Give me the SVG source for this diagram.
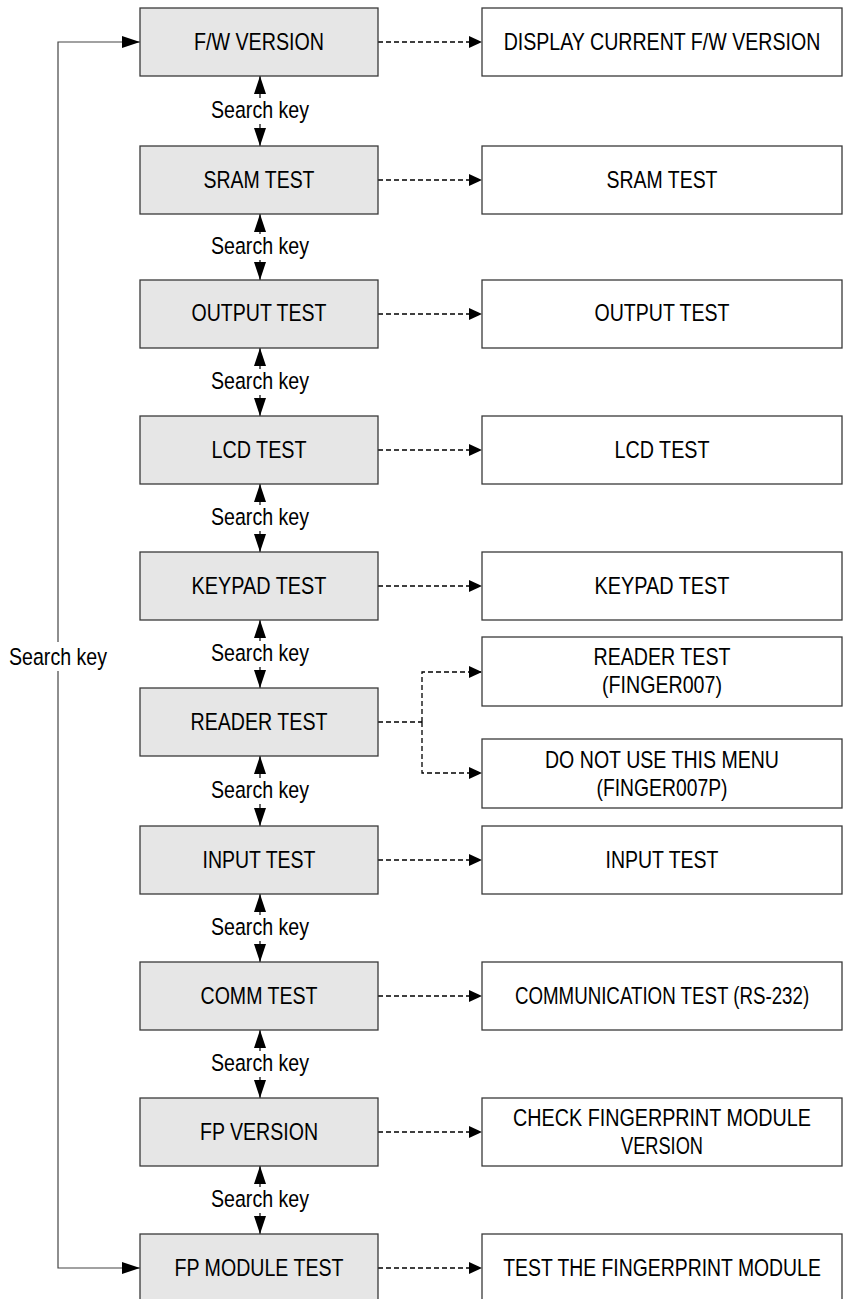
<svg xmlns="http://www.w3.org/2000/svg" width="843" height="1299" viewBox="0 0 843 1299">
<style>
text{font-family:"Liberation Sans Narrow","Liberation Sans",Arial,sans-serif;font-size:23.7px;fill:#000;text-anchor:middle}
.lb{fill:#e6e6e6;stroke:#3a3a3a;stroke-width:1.3}
.rb{fill:#fff;stroke:#3a3a3a;stroke-width:1.3}
.dash{fill:none;stroke:#000;stroke-width:1.3;stroke-dasharray:5 3;marker-end:url(#ahd)}
.dashn{fill:none;stroke:#000;stroke-width:1.3;stroke-dasharray:5 3}
.sk{fill:none;stroke:#000;stroke-width:1.2;marker-start:url(#ah);marker-end:url(#ah)}
.loop{fill:none;stroke:#444;stroke-width:1.2;marker-start:url(#ah);marker-end:url(#ah)}
.bg{fill:#fff;stroke:none}
</style>
<defs>
<marker id="ah" viewBox="0 0 18 12" refX="18" refY="6" markerWidth="18" markerHeight="12" markerUnits="userSpaceOnUse" orient="auto-start-reverse"><path d="M0,0 L18,6 L0,12 Z" fill="#000"/></marker>
<marker id="ahd" viewBox="0 0 13 12" refX="13" refY="6" markerWidth="13" markerHeight="12" markerUnits="userSpaceOnUse" orient="auto"><path d="M0,0 L13,6 L0,12 Z" fill="#000"/></marker>
</defs>

<g id="connectors">
  <path class="loop" d="M140,42 H58 V1268 H140"/>
  <rect class="bg" x="48" y="642" width="20" height="29"/>
  <text x="58" y="665" textLength="98" lengthAdjust="spacingAndGlyphs">Search key</text>

  <line class="sk" x1="260" y1="76" x2="260" y2="146"/>
  <line class="sk" x1="260" y1="214" x2="260" y2="280"/>
  <line class="sk" x1="260" y1="348" x2="260" y2="416"/>
  <line class="sk" x1="260" y1="484" x2="260" y2="552"/>
  <line class="sk" x1="260" y1="620" x2="260" y2="688"/>
  <line class="sk" x1="260" y1="756" x2="260" y2="826"/>
  <line class="sk" x1="260" y1="894" x2="260" y2="962"/>
  <line class="sk" x1="260" y1="1030" x2="260" y2="1098"/>
  <line class="sk" x1="260" y1="1166" x2="260" y2="1234"/>
  <g>
    <rect class="bg" x="208" y="98" width="104" height="26"/><text x="260" y="118" textLength="98" lengthAdjust="spacingAndGlyphs">Search key</text>
    <rect class="bg" x="208" y="234" width="104" height="26"/><text x="260" y="254" textLength="98" lengthAdjust="spacingAndGlyphs">Search key</text>
    <rect class="bg" x="208" y="369" width="104" height="26"/><text x="260" y="389" textLength="98" lengthAdjust="spacingAndGlyphs">Search key</text>
    <rect class="bg" x="208" y="505" width="104" height="26"/><text x="260" y="525" textLength="98" lengthAdjust="spacingAndGlyphs">Search key</text>
    <rect class="bg" x="208" y="641" width="104" height="26"/><text x="260" y="661" textLength="98" lengthAdjust="spacingAndGlyphs">Search key</text>
    <rect class="bg" x="208" y="778" width="104" height="26"/><text x="260" y="798" textLength="98" lengthAdjust="spacingAndGlyphs">Search key</text>
    <rect class="bg" x="208" y="915" width="104" height="26"/><text x="260" y="935" textLength="98" lengthAdjust="spacingAndGlyphs">Search key</text>
    <rect class="bg" x="208" y="1051" width="104" height="26"/><text x="260" y="1071" textLength="98" lengthAdjust="spacingAndGlyphs">Search key</text>
    <rect class="bg" x="208" y="1187" width="104" height="26"/><text x="260" y="1207" textLength="98" lengthAdjust="spacingAndGlyphs">Search key</text>
  </g>

  <line class="dash" x1="378" y1="42" x2="482" y2="42"/>
  <line class="dash" x1="378" y1="180" x2="482" y2="180"/>
  <line class="dash" x1="378" y1="314" x2="482" y2="314"/>
  <line class="dash" x1="378" y1="450" x2="482" y2="450"/>
  <line class="dash" x1="378" y1="586" x2="482" y2="586"/>
  <path class="dashn" d="M378,722 H422"/>
  <path class="dash" d="M422,722 V672 H482"/>
  <path class="dash" d="M422,722 V773 H482"/>
  <line class="dash" x1="378" y1="860" x2="482" y2="860"/>
  <line class="dash" x1="378" y1="996" x2="482" y2="996"/>
  <line class="dash" x1="378" y1="1132" x2="482" y2="1132"/>
  <line class="dash" x1="378" y1="1268" x2="482" y2="1268"/>
</g>

<g id="fw-version"><rect class="lb" x="140" y="8" width="238" height="68"/><text x="259" y="50" textLength="130" lengthAdjust="spacingAndGlyphs">F/W VERSION</text></g>
<g id="sram-test"><rect class="lb" x="140" y="146" width="238" height="68"/><text x="259" y="188" textLength="111" lengthAdjust="spacingAndGlyphs">SRAM TEST</text></g>
<g id="output-test"><rect class="lb" x="140" y="280" width="238" height="68"/><text x="259" y="321" textLength="135" lengthAdjust="spacingAndGlyphs">OUTPUT TEST</text></g>
<g id="lcd-test"><rect class="lb" x="140" y="416" width="238" height="68"/><text x="259" y="458" textLength="95" lengthAdjust="spacingAndGlyphs">LCD TEST</text></g>
<g id="keypad-test"><rect class="lb" x="140" y="552" width="238" height="68"/><text x="259" y="594" textLength="135" lengthAdjust="spacingAndGlyphs">KEYPAD TEST</text></g>
<g id="reader-test"><rect class="lb" x="140" y="688" width="238" height="68"/><text x="259" y="730" textLength="137" lengthAdjust="spacingAndGlyphs">READER TEST</text></g>
<g id="input-test"><rect class="lb" x="140" y="826" width="238" height="68"/><text x="259" y="868" textLength="113" lengthAdjust="spacingAndGlyphs">INPUT TEST</text></g>
<g id="comm-test"><rect class="lb" x="140" y="962" width="238" height="68"/><text x="259" y="1004" textLength="117" lengthAdjust="spacingAndGlyphs">COMM TEST</text></g>
<g id="fp-version"><rect class="lb" x="140" y="1098" width="238" height="68"/><text x="259" y="1140" textLength="118" lengthAdjust="spacingAndGlyphs">FP VERSION</text></g>
<g id="fp-module-test"><rect class="lb" x="140" y="1234" width="238" height="68"/><text x="259" y="1276" textLength="169" lengthAdjust="spacingAndGlyphs">FP MODULE TEST</text></g>

<g id="r-fw"><rect class="rb" x="482" y="8" width="360" height="68"/><text transform="translate(662,50) scale(0.827,1)" x="0" y="0">DISPLAY CURRENT F/W VERSION</text></g>
<g id="r-sram"><rect class="rb" x="482" y="146" width="360" height="68"/><text x="662" y="188" textLength="111" lengthAdjust="spacingAndGlyphs">SRAM TEST</text></g>
<g id="r-output"><rect class="rb" x="482" y="280" width="360" height="68"/><text x="662" y="321" textLength="135" lengthAdjust="spacingAndGlyphs">OUTPUT TEST</text></g>
<g id="r-lcd"><rect class="rb" x="482" y="416" width="360" height="68"/><text x="662" y="458" textLength="95" lengthAdjust="spacingAndGlyphs">LCD TEST</text></g>
<g id="r-keypad"><rect class="rb" x="482" y="552" width="360" height="68"/><text x="662" y="594" textLength="135" lengthAdjust="spacingAndGlyphs">KEYPAD TEST</text></g>
<g id="r-reader"><rect class="rb" x="482" y="637" width="360" height="69"/><text x="662" y="665" textLength="137" lengthAdjust="spacingAndGlyphs">READER TEST</text><text x="662" y="693" textLength="120" lengthAdjust="spacingAndGlyphs">(FINGER007)</text></g>
<g id="r-donotuse"><rect class="rb" x="482" y="739" width="360" height="69"/><text x="662" y="768" textLength="234" lengthAdjust="spacingAndGlyphs">DO NOT USE THIS MENU</text><text x="662" y="796" textLength="131" lengthAdjust="spacingAndGlyphs">(FINGER007P)</text></g>
<g id="r-input"><rect class="rb" x="482" y="826" width="360" height="68"/><text x="662" y="868" textLength="113" lengthAdjust="spacingAndGlyphs">INPUT TEST</text></g>
<g id="r-comm"><rect class="rb" x="482" y="962" width="360" height="68"/><text transform="translate(662,1004) scale(0.79,1)" x="0" y="0">COMMUNICATION TEST (RS-232)</text></g>
<g id="r-fpversion"><rect class="rb" x="482" y="1098" width="360" height="68"/><text transform="translate(662,1126) scale(0.833,1)" x="0" y="0">CHECK FINGERPRINT MODULE</text><text x="662" y="1154" textLength="82" lengthAdjust="spacingAndGlyphs">VERSION</text></g>
<g id="r-fpmodule"><rect class="rb" x="482" y="1234" width="360" height="68"/><text transform="translate(662,1276) scale(0.818,1)" x="0" y="0">TEST THE FINGERPRINT MODULE</text></g>
</svg>
